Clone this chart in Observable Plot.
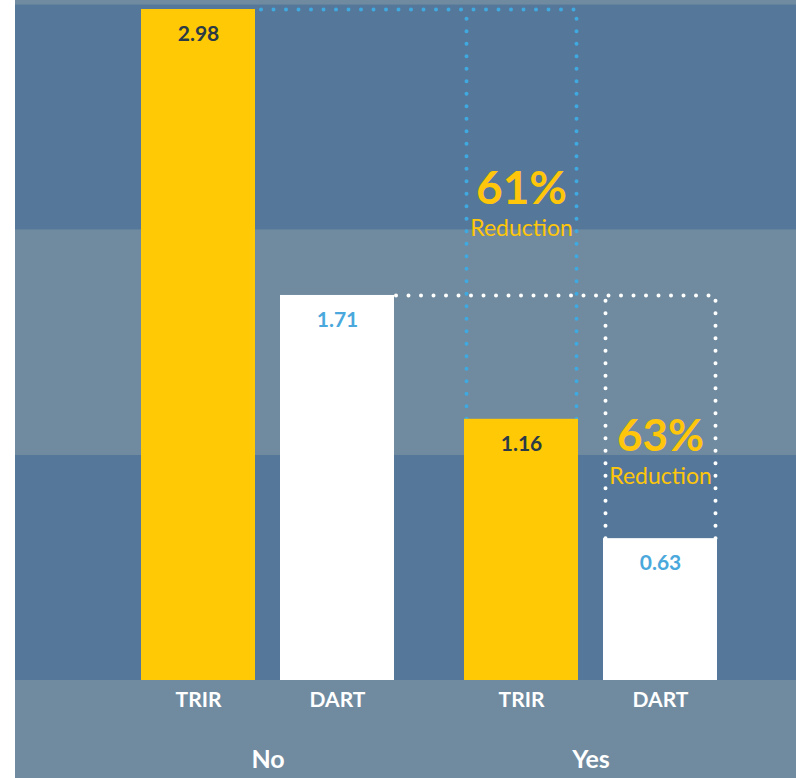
<!DOCTYPE html>
<html><head><meta charset="utf-8">
<script src="https://cdn.jsdelivr.net/npm/d3@7"></script>
<script src="https://cdn.jsdelivr.net/npm/@observablehq/plot@0.6"></script>
<style>
body{margin:0;background:#fff;}
#chart{margin-left:15px;width:781px;}
</style></head><body><div id="chart"></div>
<script>
// ---- data ----
const groups = ["No", "Yes"];
const metrics = ["TRIR", "DART"];
const trirValues = [2.98, 1.16];
const dartValues = [1.71, 0.63];
const bandEdges = [0, 1, 2, 3];
const bandShades = ["dark", "light", "dark"];
const reductionWord = "Reduction";

// ---- derived tables ----
const bars = groups.flatMap((g, i) => [
  {group: g, metric: metrics[0], value: trirValues[i]},
  {group: g, metric: metrics[1], value: dartValues[i]}
]);
const bands = bandShades.map((s, i) => ({y1: bandEdges[i], y2: bandEdges[i + 1], shade: s}));
const comparisons = [trirValues, dartValues].map((v, k) => ({
  metric: metrics[k], refGroup: groups[0], group: groups[1], from: v[0], to: v[1],
  pct: Math.round((v[0] - v[1]) / v[0] * 100) + "%"
}));
const trir = bars.filter(d => d.metric === "TRIR");
const dart = bars.filter(d => d.metric === "DART");
const cT = comparisons.filter(d => d.metric === "TRIR");
const cD = comparisons.filter(d => d.metric === "DART");

// ---- styles ----
const C = {dark: "#55789A", light: "#708BA0", yellow: "#FFC905", white: "#FFFFFF",
  blue: "#3FA9E0", textDark: "#2B3A47", textBlue: "#4AA8DC", pct: "#FFC60B"};
const off = 69.5;      // bar centre offset from group centre
const dotted = {strokeWidth: 4, strokeDasharray: "0 12.5", strokeLinecap: "round"};
const font = "Lato, 'Open Sans', sans-serif";

const chart = Plot.plot({
  width: 781, height: 778,
  marginTop: 0, marginBottom: 98, marginLeft: 0, marginRight: 0,
  style: {background: C.light, fontFamily: font},
  x: {type: "band", domain: groups, range: [126, 702], paddingInner: 70 / 323, paddingOuter: 0, axis: null},
  y: {domain: [0, 3.02], axis: null},
  marks: [
    Plot.rect(bands.filter(d => d.shade === "dark"), {y1: "y1", y2: "y2", fill: C.dark}),
    Plot.rect(bands.filter(d => d.shade === "light"), {y1: "y1", y2: "y2", fill: C.light}),
    // dotted comparison guides
    Plot.ruleY(cT, {y: "from", x1: "refGroup", x2: "group", insetLeft: 120, insetRight: 139, stroke: C.blue, ...dotted}),
    Plot.ruleX(cT, {x: "group", y1: "to", y2: "from", dx: -124.5, stroke: C.blue, ...dotted}),
    Plot.ruleX(cT, {x: "group", y1: "to", y2: "from", dx: -14.5, stroke: C.blue, ...dotted}),
    Plot.ruleY(cD, {y: "from", x1: "refGroup", x2: "group", insetLeft: 255, insetRight: 2, stroke: C.white, ...dotted}),
    Plot.ruleX(cD, {x: "group", y1: "to", y2: "from", dx: 14.5, stroke: C.white, ...dotted}),
    Plot.ruleX(cD, {x: "group", y1: "to", y2: "from", dx: 124.5, stroke: C.white, ...dotted}),
    // bars
    Plot.barY(trir, {x: "group", y: "value", fill: C.yellow, insetRight: 139}),
    Plot.barY(dart, {x: "group", y: "value", fill: C.white, insetLeft: 139}),
    // value labels
    Plot.text(trir, {x: "group", y: "value", text: d => d.value.toFixed(2), dx: -off, dy: 25, fill: C.textDark, fontSize: 21, fontWeight: 700}),
    Plot.text(dart, {x: "group", y: "value", text: d => d.value.toFixed(2), dx: off, dy: 25, fill: C.textBlue, fontSize: 21, fontWeight: 700}),
    // metric labels
    Plot.text(trir, {x: "group", text: "metric", frameAnchor: "bottom", dx: -off, dy: 26.5, fill: C.white, fontSize: 21, fontWeight: 700}),
    Plot.text(dart, {x: "group", text: "metric", frameAnchor: "bottom", dx: off, dy: 26.5, fill: C.white, fontSize: 21, fontWeight: 700}),
    // group labels
    Plot.text(groups, {x: d => d, text: d => d, frameAnchor: "bottom", dy: 87, fill: C.white, fontSize: 25, fontWeight: 700}),
    // reduction annotations
    Plot.text(cT, {x: "group", y: "to", text: "pct", dx: -off, dy: -230, fill: C.pct, fontSize: 46, fontWeight: 700}),
    Plot.text(cT, {x: "group", y: "to", text: () => reductionWord, dx: -off, dy: -191, fill: C.pct, fontSize: 23, fontWeight: 400}),
    Plot.text(cD, {x: "group", y: "to", text: "pct", dx: off, dy: -102, fill: C.pct, fontSize: 44, fontWeight: 700}),
    Plot.text(cD, {x: "group", y: "to", text: () => reductionWord, dx: off, dy: -62, fill: C.pct, fontSize: 23, fontWeight: 400})
  ]
});
document.getElementById("chart").appendChild(chart);
</script>
</body></html>
